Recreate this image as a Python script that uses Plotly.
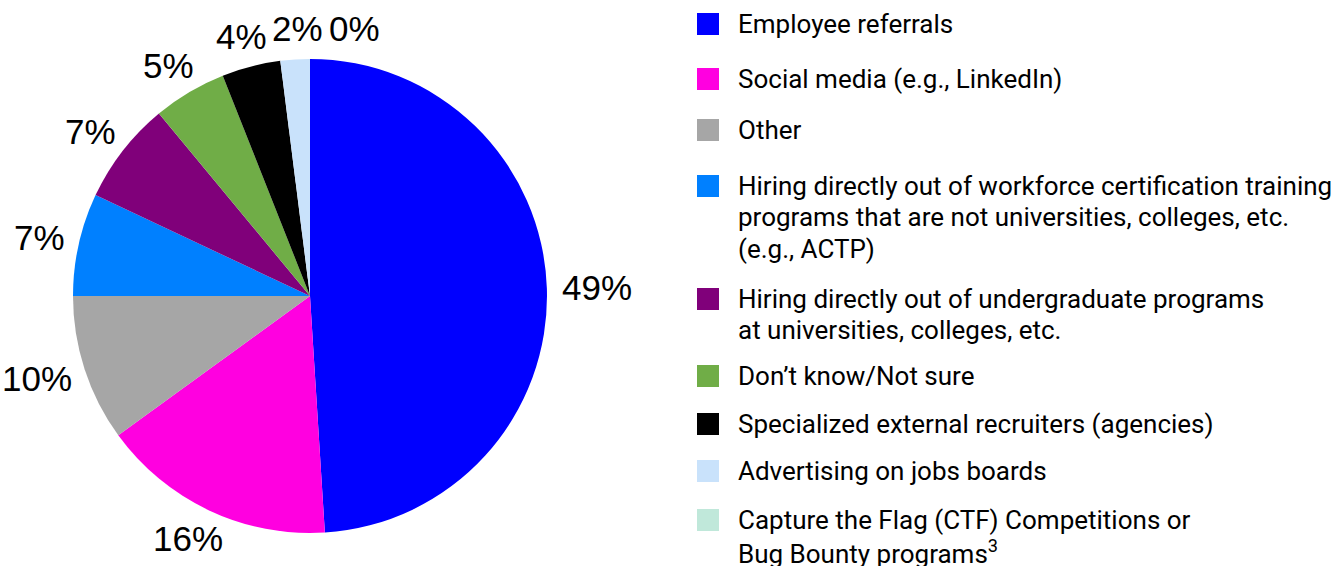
import math
import plotly.graph_objects as go

# Survey shares by hiring channel (percent)
labels = [
    "Employee referrals",
    "Social media (e.g., LinkedIn)",
    "Other",
    "Hiring directly out of workforce certification training<br>programs that are not universities, colleges, etc.<br>(e.g., ACTP)",
    "Hiring directly out of undergraduate programs<br>at universities, colleges, etc.",
    "Don’t know/Not sure",
    "Specialized external recruiters (agencies)",
    "Advertising on jobs boards",
    "Capture the Flag (CTF) Competitions or<br>Bug Bounty programs<sup>3</sup>",
]
values = [49, 16, 10, 7, 7, 5, 4, 2, 0]
colors = ["#0000FF", "#FF00E0", "#A6A6A6", "#0080FF", "#80007A",
          "#70AD47", "#000000", "#C9E2FB", "#C0E8DA"]

W, H = 1341, 566
cx, cy, r = 310, 296, 237          # pie centre and radius in pixels
label_gap = 15                     # space between rim and label box
label_size = 35
legend_size = 26

fig = go.Figure(go.Pie(
    labels=labels,
    values=values,
    marker=dict(colors=colors, line=dict(width=0)),
    sort=False,
    direction="clockwise",
    rotation=0,
    textinfo="none",
    automargin=False,
    showlegend=False,
    hoverinfo="label+value",
    domain=dict(x=[(cx - r) / W, (cx + r) / W],
                y=[(H - cy - r) / H, (H - cy + r) / H]),
))


def text_width(s, size):
    # rough advance widths for digits and the percent sign
    return sum(0.889 if ch == "%" else 0.556 for ch in s) * size


# Percentage labels just outside the rim, at each slice's mid-angle
total = sum(values)
placed = []
cum = 0.0
for v in values:
    mid = (cum + v / 2) / total * 2 * math.pi
    cum += v
    txt = f"{v}%"
    dx, dy = math.sin(mid), -math.cos(mid)
    w = text_width(txt, label_size)
    h = label_size * 0.9
    x = cx + dx * (r + label_gap) + dx * w / 2
    y = cy + dy * (r + label_gap) + dy * h / 2
    # nudge sideways until the label no longer collides with earlier ones
    moved = True
    while moved:
        moved = False
        for (px, py, pw, ph) in placed:
            if abs(x - px) < (w + pw) / 2 + 4 and abs(y - py) < (h + ph) / 2:
                x = px + (w + pw) / 2 + 6
                moved = True
    placed.append((x, y, w, h))
    fig.add_annotation(xref="paper", yref="paper", x=x / W, y=(H - y) / H,
                       xanchor="center", yanchor="middle", text=txt,
                       showarrow=False,
                       font=dict(family="Liberation Sans", size=label_size,
                                 color="#000000"))

# Hand-built legend: colour swatch + wrapped label per entry
legend_y = [24, 79, 130, 186, 299, 376, 424, 471, 520]  # first-line centres (px)
line_gap = 31.5
for lab, col, yc in zip(labels, colors, legend_y):
    fig.add_shape(type="rect", xref="paper", yref="paper",
                  x0=697 / W, x1=719 / W,
                  y0=(H - yc - 11) / H, y1=(H - yc + 11) / H,
                  fillcolor=col, line=dict(width=0))
    for i, line in enumerate(lab.split("<br>")):
        ly = yc + i * line_gap
        fig.add_annotation(xref="paper", yref="paper", x=736 / W,
                           y=(H - ly) / H, xanchor="left", yanchor="middle",
                           align="left", text=line, showarrow=False,
                           font=dict(family="Roboto", size=legend_size,
                                     color="#000000"))

fig.update_layout(
    width=W, height=H,
    margin=dict(l=0, r=0, t=0, b=0, pad=0, autoexpand=False),
    paper_bgcolor="white", plot_bgcolor="white",
)

fig.write_html("out.html")
